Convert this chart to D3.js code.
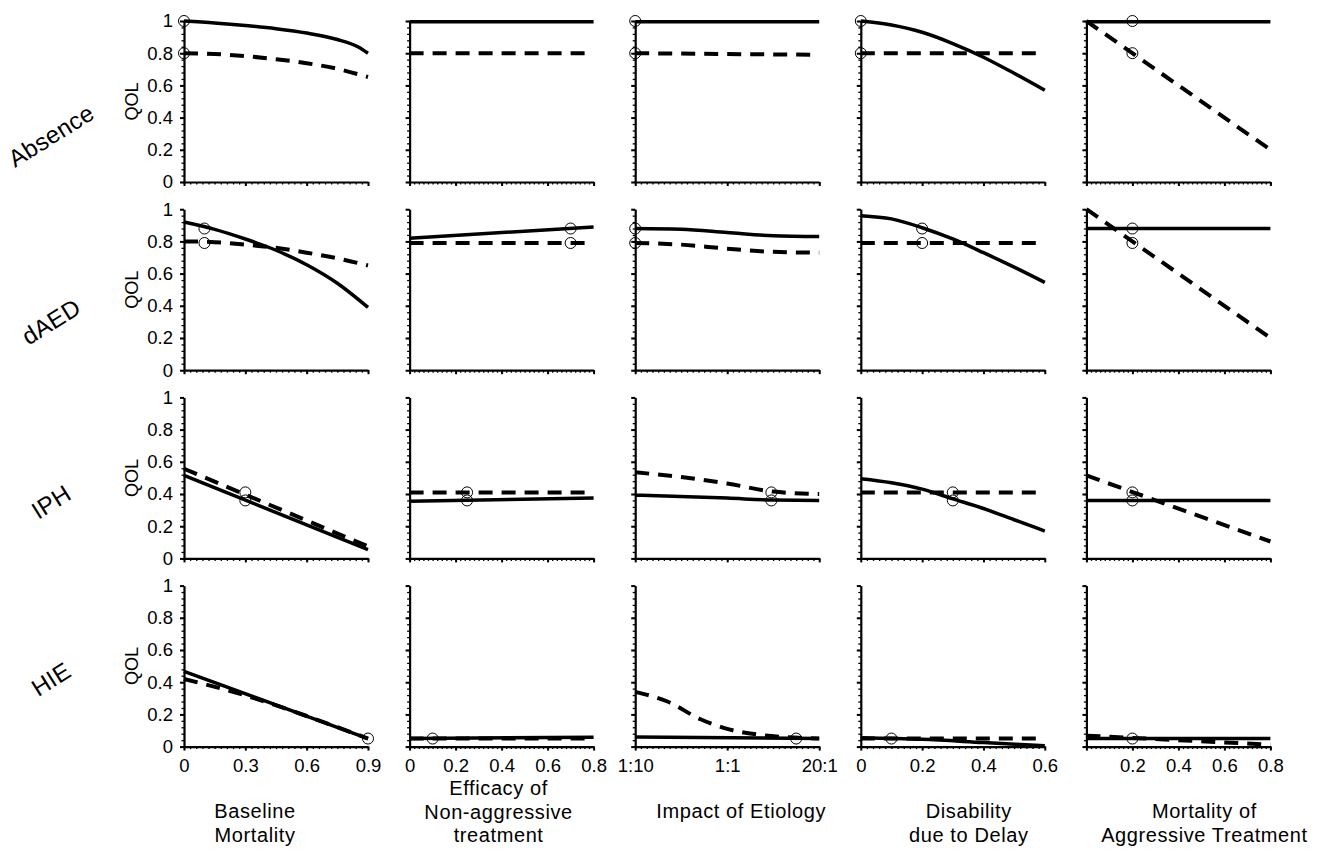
<!DOCTYPE html>
<html><head><meta charset="utf-8">
<script src="https://cdn.jsdelivr.net/npm/d3@7"></script>
<style>
html,body{margin:0;padding:0;background:#fff;}
text{font-family:"Liberation Sans",Arial,sans-serif;fill:#000;}
</style></head>
<body><svg id="c" width="1328" height="862"></svg>
<script>
// ---------- data ----------
const rowNames = ["Absence", "dAED", "IPH", "HIE"];
const colTitles = [
  ["Baseline", "Mortality"],
  ["Efficacy of", "Non-aggressive", "treatment"],
  ["Impact of Etiology"],
  ["Disability", "due to Delay"],
  ["Mortality of", "Aggressive Treatment"]
];
const xDomains = [[0, 0.9], [0, 0.8], [0, 2], [0, 0.6], [0, 0.8]];
const xTickValues = [[0, 0.3, 0.6, 0.9], [0, 0.2, 0.4, 0.6, 0.8], [0, 1, 2], [0, 0.2, 0.4, 0.6], [0, 0.2, 0.4, 0.6, 0.8]];
const xTickLabels = [["0", "0.3", "0.6", "0.9"], ["0", "0.2", "0.4", "0.6", "0.8"], ["1:10", "1:1", "20:1"], ["0", "0.2", "0.4", "0.6"], ["", "0.2", "0.4", "0.6", "0.8"]];
const xMinorSteps = [0.03, 0.02, 0.0625, 0.02, 0.02];
const yTicks = [0, 0.2, 0.4, 0.6, 0.8, 1];
const yTickLabels = ["0", "0.2", "0.4", "0.6", "0.8", "1"];
const yLabel = "QOL";

// solid (aggressive) curves, one list per column
const solidAbsence = [
  [[0,1.0],[0.15,0.988],[0.3,0.972],[0.45,0.952],[0.6,0.925],[0.75,0.885],[0.85,0.84],[0.9,0.80]],
  [[0,0.995],[0.8,0.995]],
  [[0,0.995],[2,0.995]],
  [[0,1.0],[0.1,0.975],[0.2,0.93],[0.3,0.86],[0.4,0.775],[0.5,0.675],[0.6,0.57]],
  [[0,0.995],[0.8,0.995]]
];
const dashedAbsence = [
  [[0,0.80],[0.15,0.795],[0.3,0.782],[0.45,0.763],[0.6,0.738],[0.75,0.703],[0.9,0.652]],
  [[0,0.80],[0.8,0.80]],
  [[0,0.80],[1,0.795],[2,0.79]],
  [[0,0.80],[0.6,0.80]],
  [[0,1.0],[0.8,0.2]]
];
const solidDAED = [
  [[0,0.92],[0.15,0.875],[0.3,0.815],[0.45,0.745],[0.6,0.655],[0.75,0.54],[0.9,0.39]],
  [[0,0.82],[0.8,0.89]],
  [[0,0.88],[0.5,0.875],[1,0.855],[1.5,0.835],[2,0.83]],
  [[0,0.96],[0.1,0.94],[0.2,0.885],[0.3,0.815],[0.4,0.73],[0.5,0.64],[0.6,0.545]],
  [[0,0.88],[0.8,0.88]]
];
const dashedDAED = [
  [[0,0.80],[0.15,0.795],[0.3,0.78],[0.45,0.76],[0.6,0.73],[0.75,0.695],[0.9,0.65]],
  [[0,0.79],[0.8,0.79]],
  [[0,0.79],[0.5,0.78],[1,0.755],[1.5,0.735],[2,0.73]],
  [[0,0.79],[0.6,0.79]],
  [[0,1.0],[0.8,0.2]]
];
const solidIPH = [
  [[0,0.515],[0.9,0.055]],
  [[0,0.355],[0.8,0.375]],
  [[0,0.393],[1,0.375],[1.5,0.362],[2,0.36]],
  [[0,0.495],[0.1,0.47],[0.2,0.43],[0.3,0.37],[0.4,0.31],[0.5,0.24],[0.6,0.17]],
  [[0,0.36],[0.8,0.36]]
];
const dashedIPH = [
  [[0,0.557],[0.9,0.075]],
  [[0,0.41],[0.8,0.41]],
  [[0,0.535],[0.5,0.505],[1,0.465],[1.5,0.415],[2,0.40]],
  [[0,0.41],[0.6,0.41]],
  [[0,0.515],[0.8,0.105]]
];
const solidHIE = [
  [[0,0.467],[0.9,0.05]],
  [[0,0.05],[0.8,0.058]],
  [[0,0.06],[2,0.05]],
  [[0,0.055],[0.2,0.045],[0.4,0.025],[0.6,0.005]],
  [[0,0.05],[0.8,0.05]]
];
const dashedHIE = [
  [[0,0.42],[0.3,0.318],[0.6,0.19],[0.9,0.05]],
  [[0,0.05],[0.8,0.05]],
  [[0,0.34],[0.35,0.28],[0.71,0.17],[1.0,0.11],[1.33,0.075],[1.6,0.06],[2,0.05]],
  [[0,0.05],[0.6,0.05]],
  [[0,0.068],[0.8,0.012]]
];
// base-case markers: [x, [y values]] per column (null = none)
const markersAbsence = [[0,[1.0,0.8]], null, [0,[1.0,0.8]], [0,[1.0,0.8]], [0.2,[1.0,0.8]]];
const markersDAED = [[0.1,[0.88,0.79]], [0.7,[0.88,0.79]], [0,[0.88,0.79]], [0.2,[0.88,0.79]], [0.2,[0.88,0.79]]];
const markersIPH = [[0.3,[0.41,0.36]], [0.25,[0.41,0.36]], [1.48,[0.41,0.36]], [0.3,[0.41,0.36]], [0.2,[0.41,0.36]]];
const markersHIE = [[0.9,[0.05]], [0.1,[0.05]], [1.75,[0.05]], [0.1,[0.05]], [0.2,[0.05]]];

const solidRows = [solidAbsence, solidDAED, solidIPH, solidHIE];
const dashedRows = [dashedAbsence, dashedDAED, dashedIPH, dashedHIE];
const markerRows = [markersAbsence, markersDAED, markersIPH, markersHIE];

// ---------- layout ----------
const colLeft0 = 184, colStep = 225.6, plotW = 184;
const rowTop0 = 21, rowStep = 188.2, plotH = 161;
const rowLabelDy = [34, 32, 24, 13];
const titleDx = [-21, -3, 14, 16, 26];

const svg = d3.select("#c");

rowNames.forEach((rn, r) => {
  const top = rowTop0 + r * rowStep;
  const y = d3.scaleLinear().domain([0, 1]).range([top + plotH, top]);
  // row label
  svg.append("text")
    .attr("transform", `translate(51,${top + plotH / 2 + rowLabelDy[r]}) rotate(-32)`)
    .attr("text-anchor", "middle").attr("dominant-baseline", "central")
    .style("font-size", "24px").style("letter-spacing", "0.3px").text(rn);
  // QOL label
  svg.append("text")
    .attr("transform", `translate(138,${top + plotH / 2}) rotate(-90)`)
    .attr("text-anchor", "middle").style("font-size", "18px").text(yLabel);

  xDomains.forEach((dom, c) => {
    const left = colLeft0 + c * colStep;
    const x = d3.scaleLinear().domain(dom).range([left, left + plotW]);
    const g = svg.append("g");

    // minor ticks
    const yMinor = d3.range(0, 1.0001, 0.04);
    g.append("g").attr("transform", `translate(${left},0)`)
      .call(d3.axisLeft(y).tickValues(yMinor).tickSize(2.5).tickFormat(""))
      .call(a => a.select(".domain").remove())
      .selectAll("line").attr("stroke-width", 1.3);
    const xMinor = d3.range(dom[0], dom[1] + 1e-6, xMinorSteps[c]);
    g.append("g").attr("transform", `translate(0,${top + plotH})`)
      .call(d3.axisBottom(x).tickValues(xMinor).tickSize(2.5).tickFormat(""))
      .call(a => a.select(".domain").remove())
      .selectAll("line").attr("stroke-width", 1.3);

    // major y axis
    const ya = g.append("g").attr("transform", `translate(${left},0)`)
      .call(d3.axisLeft(y).tickValues(yTicks).tickSizeInner(4).tickSizeOuter(0)
        .tickPadding(7).tickFormat((d, i) => c === 0 ? yTickLabels[i] : ""));
    ya.select(".domain").attr("stroke-width", 2.2);
    ya.selectAll("line").attr("stroke-width", 2);
    ya.selectAll("text").style("font-size", "18.5px").attr("font-family", null);

    // major x axis
    const xa = g.append("g").attr("transform", `translate(0,${top + plotH})`)
      .call(d3.axisBottom(x).tickValues(xTickValues[c]).tickSizeInner(4).tickSizeOuter(0)
        .tickPadding(8).tickFormat((d, i) => r === rowNames.length - 1 ? xTickLabels[c][i] : ""));
    xa.select(".domain").attr("stroke-width", 2.2);
    xa.selectAll("line").attr("stroke-width", 2);
    xa.selectAll("text").style("font-size", "18.5px").attr("font-family", null);

    const line = d3.line().x(d => x(d[0])).y(d => y(d[1])).curve(d3.curveMonotoneX);
    g.append("path").datum(dashedRows[r][c]).attr("d", line)
      .attr("fill", "none").attr("stroke", "#000").attr("stroke-width", 4)
      .attr("stroke-dasharray", "14,9");
    g.append("path").datum(solidRows[r][c]).attr("d", line)
      .attr("fill", "none").attr("stroke", "#000").attr("stroke-width", 3.5);

    const m = markerRows[r][c];
    if (m) {
      g.selectAll("circle.m").data(m[1]).enter().append("circle")
        .attr("cx", x(m[0])).attr("cy", d => y(d)).attr("r", 5.5)
        .attr("fill", "none").attr("stroke", "#000").attr("stroke-width", 1);
    }

    if (r === rowNames.length - 1) {
      const cx = left + plotW / 2 + titleDx[c];
      const lines = colTitles[c];
      const startBase = lines.length === 3 ? 795 : 818;
      lines.forEach((t, k) => {
        svg.append("text").attr("x", cx).attr("y", startBase + k * 23.5)
          .attr("text-anchor", "middle").style("font-size", "20px")
          .style("letter-spacing", "0.6px").text(t);
      });
    }
  });
});
</script></body></html>
